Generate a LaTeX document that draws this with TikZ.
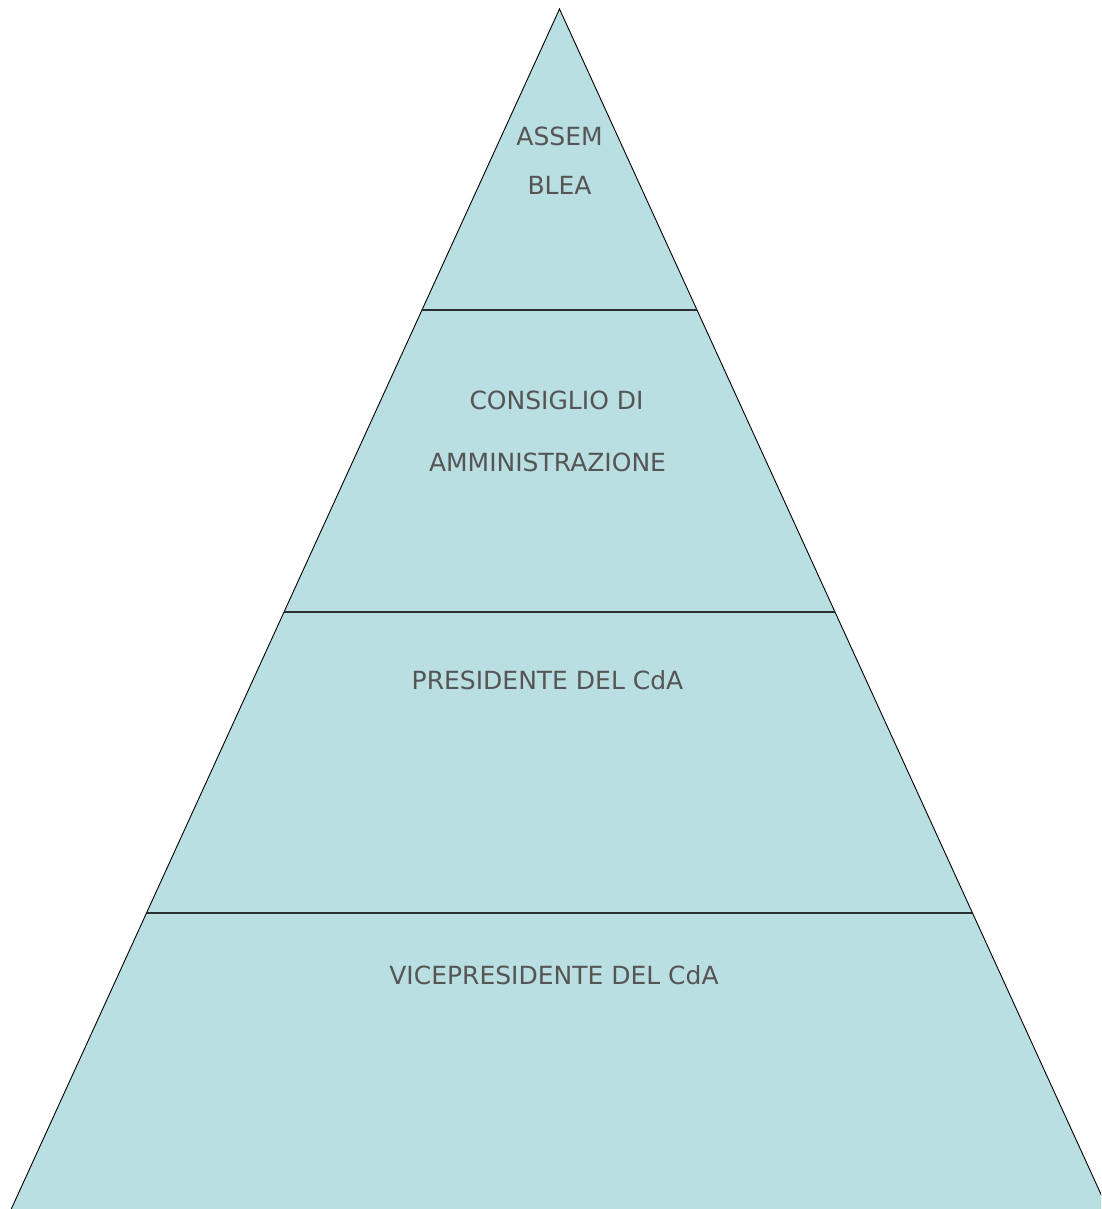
\documentclass[tikz,border=0pt]{standalone}
\usepackage{fontspec}
\usetikzlibrary{calc}
\newfontfamily\labfont{DejaVu Sans}
\definecolor{pyrfill}{HTML}{B9DFE2}
\definecolor{labgray}{HTML}{555555}
\definecolor{bandline}{HTML}{2A2F31}
\tikzset{
  lab/.style={anchor=base, inner sep=0pt, text=labgray, font=\labfont\fontsize{25}{30}\selectfont},
  edge/.style={draw=black, line width=0.9pt},
  band/.style={draw=bandline, line width=2.2pt}
}
\begin{document}
\begin{tikzpicture}[x=1pt,y=-1pt]
\useasboundingbox (0,0) rectangle (1101,1209);
\clip (0,0) rectangle (1101,1209);
\coordinate (apex) at (559.5,9);
\coordinate (bl) at (8.9,1214.2);
\coordinate (br) at (1110.1,1214.2);
\fill[pyrfill] (apex) -- (bl) -- (br) -- cycle;
\draw[edge] (bl) -- (apex) -- (br);
\coordinate (l1) at ($(apex)!0.25!(bl)$);
\coordinate (r1) at ($(apex)!0.25!(br)$);
\coordinate (l2) at ($(apex)!0.5!(bl)$);
\coordinate (r2) at ($(apex)!0.5!(br)$);
\coordinate (l3) at ($(apex)!0.75!(bl)$);
\coordinate (r3) at ($(apex)!0.75!(br)$);
\draw[band] (l1) -- (r1);
\draw[band] (l2) -- (r2);
\draw[band] (l3) -- (r3);
\node[lab] (ass1) at (559.5,146) {ASSEM};
\node[lab] (ass2) at (559.5,194) {BLEA};
\node[lab] (cda1) at (556.5,409) {CONSIGLIO DI};
\node[lab] (cda2) at (547.5,471) {AMMINISTRAZIONE};
\node[lab] (pres) at (547.5,689) {PRESIDENTE DEL CdA};
\node[lab] (vice) at (554,984) {VICEPRESIDENTE DEL CdA};
\end{tikzpicture}
\end{document}
